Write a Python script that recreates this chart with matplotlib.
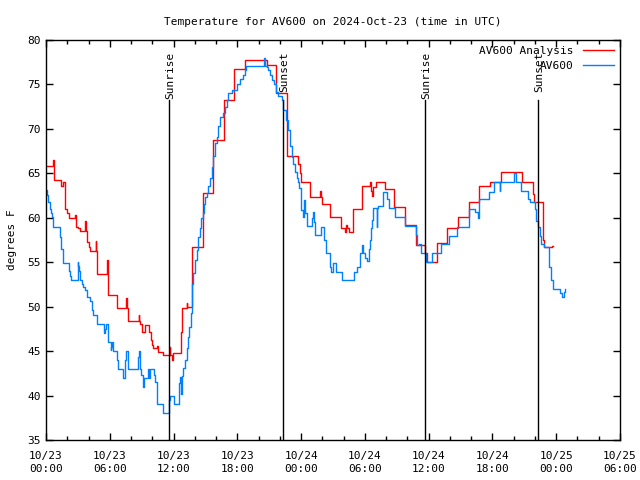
import numpy as np
import matplotlib
matplotlib.use("Agg")
import matplotlib.pyplot as plt
import matplotlib.transforms as mtransforms

# hours since 2024-10-23 00:00 UTC, temperature in degrees F
analysis_hours = [0.00, 0.69, 0.72, 1.38, 1.62, 1.75, 1.82, 1.95, 2.20, 2.73, 2.78, 2.82, 3.00, 3.20, 3.70, 3.75,
                  3.83, 4.00, 4.14, 4.70, 4.75, 4.83, 5.71, 5.80, 5.86, 6.71, 7.53, 7.65, 7.75, 8.72, 8.77,
                  8.84, 9.05, 9.31, 9.72, 9.85, 10.00, 10.10, 10.41, 10.50, 10.57, 10.97, 11.63, 11.70, 11.82,
                  11.95, 12.67, 12.76, 13.24, 13.30, 13.77, 14.74, 15.74, 16.75, 17.69, 18.72, 19.82, 20.76,
                  21.64, 22.70, 23.70, 23.85, 24.00, 24.84, 25.78, 25.83, 25.94, 26.72, 27.72, 28.13, 28.19,
                  28.30, 28.50, 28.85, 28.91, 29.76, 30.48, 30.58, 30.64, 30.80, 31.05, 31.90, 32.74, 33.77,
                  34.78, 35.66, 35.81, 36.75, 36.81, 37.75, 38.73, 39.82, 40.76, 41.77, 42.81, 43.81, 44.75,
                  45.78, 45.91, 46.73, 46.80, 46.85, 47.60, 47.73]
analysis_temp = [65.8, 66.5, 64.3, 63.6, 64.0, 63.4, 61.0, 60.5, 60.0, 60.3, 59.5, 59.0, 58.8, 58.5, 59.6, 58.5,
                 57.3, 56.7, 56.3, 57.4, 56.3, 53.7, 55.2, 53.7, 51.3, 49.85, 51.0, 49.85, 48.4, 49.1, 48.4,
                 48.0, 47.1, 47.9, 47.1, 46.3, 45.7, 45.3, 45.6, 45.3, 44.9, 44.6, 45.5, 44.6, 44.0,
                 44.8, 47.2, 49.8, 50.4, 50.0, 56.75, 62.8, 68.75, 73.25, 76.7, 77.8, 77.7, 77.2,
                 74.0, 66.9, 66.1, 65.0, 64.0, 62.3, 63.0, 62.3, 61.55, 60.1, 58.8, 58.4, 59.2,
                 58.8, 58.4, 59.75, 61.0, 63.6, 64.0, 63.0, 62.5, 63.5, 64.0, 63.2, 61.2, 59.2,
                 56.9, 56.0, 55.05, 56.1, 57.2, 58.8, 60.05, 61.75, 63.6, 64.0, 65.1, 65.2, 64.0,
                 62.7, 61.75, 59.2, 57.5, 56.7, 56.8, 56.8]

obs_hours = [0.00, 0.05, 0.20, 0.35, 0.50, 0.60, 0.69, 0.74, 1.20, 1.30, 1.40, 1.57, 2.15, 2.25, 2.35, 2.98,
             3.03, 3.07, 3.20, 3.36, 3.50, 3.67, 3.83, 4.14, 4.30, 4.45, 4.83, 5.45, 5.55, 5.65, 5.86, 6.08,
             6.15, 6.22, 6.33, 6.70, 6.80, 7.20, 7.43, 7.52, 7.68, 8.68, 8.78, 8.84, 8.95, 9.09, 9.22,
             9.63, 9.70, 9.75, 10.15, 10.25, 10.41, 10.47, 11.04, 11.60, 11.67, 12.04, 12.54, 12.60, 12.70,
             12.80, 12.90, 13.08, 13.24, 13.39, 13.48, 13.60, 13.70, 13.77, 13.86, 14.02, 14.18, 14.33,
             14.49, 14.58, 14.74, 14.86, 14.96, 15.11, 15.27, 15.43, 15.58, 15.74, 15.90, 16.05, 16.20,
             16.37, 16.68, 16.84, 16.99, 17.15, 17.46, 17.93, 18.25, 18.56, 18.72, 18.81, 20.51, 20.60,
             20.76, 20.92, 21.07, 21.23, 21.45, 21.64, 21.86, 22.17, 22.33, 22.58, 22.80, 22.95, 23.11,
             23.27, 23.43, 23.58, 23.74, 23.83, 23.96, 24.02, 24.15, 24.27, 24.40, 24.52, 24.99, 25.08,
             25.18, 25.30, 25.84, 26.15, 26.25, 26.34, 26.72, 26.81, 26.97, 27.28, 27.88, 28.97, 29.28,
             29.54, 29.70, 29.85, 30.01, 30.23, 30.35, 30.48, 30.60, 30.70, 30.79, 31.12, 31.18, 31.26,
             31.73, 32.08, 32.30, 32.83, 33.77, 34.78, 34.94, 35.10, 35.19, 35.30, 35.75, 36.34, 37.13,
             37.94, 38.63, 39.75, 39.82, 40.40, 40.60, 40.72, 41.05, 41.68, 42.12, 42.68, 42.75, 44.03,
             44.19, 44.72, 45.34, 45.50, 45.97, 46.13, 46.29, 46.44, 46.60, 46.82, 47.32, 47.54, 47.70,
             48.39, 48.58, 48.70, 48.85]
obs_temp = [63.1, 62.6, 61.8, 61.0, 60.5, 60.1, 59.0, 59.0, 59.0, 57.8, 56.5, 54.95, 54.0, 53.5, 53.0, 55.0,
            54.6, 54.0, 53.0, 52.6, 52.2, 51.9, 51.1, 50.6, 49.6, 49.1, 48.0, 47.0, 47.5, 48.0, 46.0, 45.1,
            45.5, 46.0, 45.0, 44.0, 43.0, 42.0, 44.0, 45.0, 43.0, 44.3, 45.0, 43.0, 42.3, 41.0, 42.0,
            43.0, 42.0, 43.0, 42.3, 41.5, 41.0, 39.0, 38.0, 39.5, 40.0, 39.0, 41.4, 42.1, 40.2,
            42.2, 43.1, 44.0, 45.3, 46.6, 47.7, 49.3, 50.75, 52.5, 53.8, 55.2, 56.4, 57.8,
            58.8, 60.0, 60.5, 61.5, 62.3, 62.8, 63.6, 64.5, 65.7, 67.0, 68.4, 69.1, 70.3,
            71.3, 71.8, 72.5, 73.25, 74.0, 74.4, 75.1, 75.6, 76.1, 76.6, 77.1, 78.0, 77.1,
            77.0, 76.6, 76.1, 75.5, 75.0, 74.2, 73.7, 73.25, 72.1, 71.0, 69.9, 68.1, 66.8,
            66.0, 65.1, 64.5, 64.0, 63.3, 62.3, 60.9, 60.1, 62.0, 60.5, 59.1, 60.0, 60.6,
            59.5, 58.1, 59.0, 57.5, 57.5, 56.0, 54.5, 53.9, 54.9, 53.9, 53.0, 53.9, 54.5,
            56.0, 56.9, 56.0, 55.5, 55.1, 56.5, 57.5, 58.8, 59.75, 61.1, 59.0, 61.1, 61.3,
            62.9, 62.1, 61.1, 60.1, 59.1, 58.1, 56.9, 57.0, 57.05, 56.0, 55.0, 56.0, 57.05,
            58.0, 59.0, 60.6, 61.0, 60.6, 60.0, 62.1, 62.1, 62.9, 64.0, 63.0, 64.0, 65.0,
            64.0, 63.0, 62.1, 61.8, 61.0, 59.6, 59.0, 58.0, 57.0, 56.7, 54.5, 53.0, 52.0,
            51.5, 51.1, 51.6, 52.0]

sun_hours = [11.60, 22.33, 35.68, 46.31]
sun_labels = ["Sunrise", "Sunset", "Sunrise", "Sunset"]

tick_hours = list(range(0, 55, 6))
tick_labels = ["10/23\n00:00", "10/23\n06:00", "10/23\n12:00", "10/23\n18:00", "10/24\n00:00",
               "10/24\n06:00", "10/24\n12:00", "10/24\n18:00", "10/25\n00:00", "10/25\n06:00"]

font = "DejaVu Sans Mono"
plt.rcParams['font.family'] = font

fig = plt.figure(figsize=(6.4, 4.8), dpi=100)
ax = fig.add_axes([46 / 640, 40 / 480, 574 / 640, 400 / 480])

ax.plot(analysis_hours, analysis_temp, drawstyle='steps-post', color='#ff0000', lw=1.0,
        label='AV600 Analysis')
ax.plot(obs_hours, obs_temp, drawstyle='steps-post', color='#0080ff', lw=1.0, label='AV600')

# sunrise / sunset markers
trans = mtransforms.blended_transform_factory(ax.transData, ax.transAxes)
for h, lab in zip(sun_hours, sun_labels):
    ax.plot([h, h], [0, 0.85], transform=trans, color='black', lw=1.0)
    ax.text(h + 0.1, 0.97, lab, transform=trans, rotation=90, ha='center', va='top', fontsize=8)

ax.set_xlim(0, 54)
ax.set_ylim(35, 80)
ax.set_xticks(tick_hours)
ax.set_xticklabels(tick_labels, fontsize=8)
for t in ax.get_xticklabels():
    t.set_linespacing(1.35)
ax.set_xticks(np.arange(0, 55, 2), minor=True)
ax.set_yticks(np.arange(35, 81, 5))
ax.tick_params(axis='y', labelsize=8)
ax.tick_params(axis='x', which='major', pad=8)
ax.tick_params(which='both', direction='in', top=True, right=True, width=1.0)
ax.tick_params(which='major', length=5)
ax.tick_params(which='minor', length=3)
for s in ax.spines.values():
    s.set_linewidth(1.0)

ax.set_ylabel("degrees F", fontsize=8, labelpad=8)
ax.set_title("Temperature for AV600 on 2024-Oct-23 (time in UTC)", fontsize=8, pad=11)

ax.legend(loc='upper right', frameon=False, markerfirst=False, fontsize=8,
          handlelength=2.8, borderaxespad=0.1, labelspacing=0.45, handletextpad=0.9)

fig.savefig("out.png", dpi=100)
